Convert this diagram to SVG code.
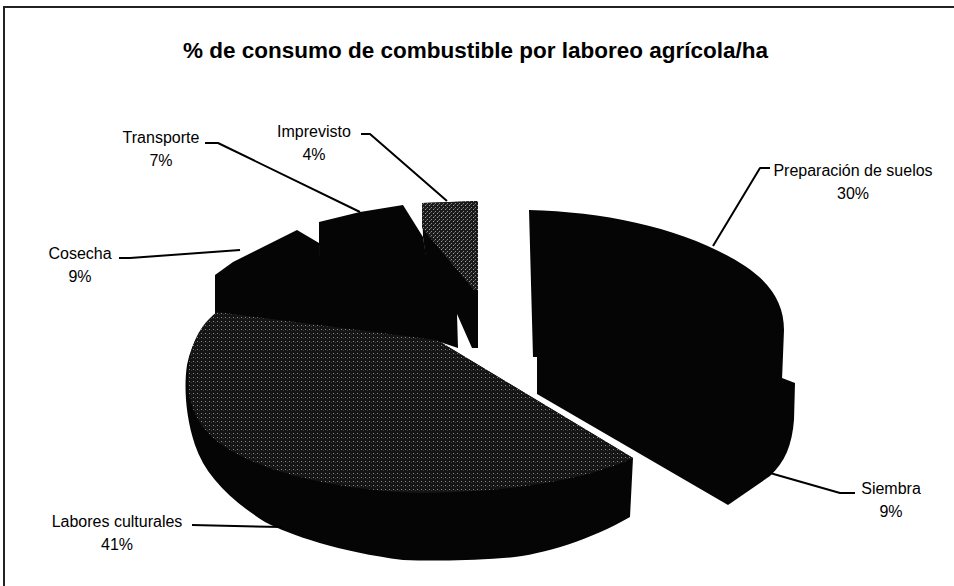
<svg xmlns="http://www.w3.org/2000/svg" width="954" height="586" viewBox="0 0 954 586">
<defs>
<pattern id="stip" width="4" height="4" patternUnits="userSpaceOnUse">
<rect width="4" height="4" fill="#141414"/>
<rect x="1" y="1" width="1" height="1" fill="#8a8a8a"/>
<rect x="3" y="2" width="1" height="1" fill="#3a3a3a"/>
</pattern>
<pattern id="stip2" width="4" height="4" patternUnits="userSpaceOnUse">
<rect width="4" height="4" fill="#1a1a1a"/>
<rect x="1" y="1" width="1" height="1" fill="#a0a0a0"/>
<rect x="3" y="3" width="1" height="1" fill="#8a8a8a"/>
<rect x="2" y="0" width="1" height="1" fill="#555"/>
</pattern>
<style>
.lbl{font-family:"Liberation Sans",Arial,sans-serif;font-size:16px;fill:#000;text-anchor:middle}
.ttl{font-family:"Liberation Sans",Arial,sans-serif;font-size:22px;font-weight:bold;fill:#000}
.side{fill:#050505}
.top{fill:url(#stip)}
.top2{fill:url(#stip2)}
.lead{fill:none;stroke:#000;stroke-width:2;stroke-linejoin:round}
.frame{fill:none;stroke:#222;stroke-width:2}
</style>
</defs>
<rect width="954" height="586" fill="#fff"/>
<path class="frame" d="M4,586 V7 H954"/>
<text class="ttl" x="183" y="58" textLength="585" lengthAdjust="spacingAndGlyphs">% de consumo de combustible por laboreo agrícola/ha</text>

<g id="cosecha">
<path class="side" d="M215,275 L233,262 L297,230 L319,243 L325,330 L215,314 Z"/>
</g>
<g id="transporte">
<path class="side" d="M319,243 L319,222 L360,212 L403,205 L423,237 L440,342 L320,330 Z"/>
</g>
<g id="imprevisto">
<path class="side" d="M422,203 L478,201 L478,348 L472,348 L457,314 L458,348 L437,341 L423,237 Z"/>
<path class="top2" d="M422,203 L478,201 L478,290 L474,290 L422,228 Z"/>
</g>
<g id="preparacion">
<path class="side" d="M529,210 C610,212 690,230 745,266 C772,284 784,305 784,330 L782,380 L540,380 L537,357 L533,357 Z"/>
</g>
<g id="siembra">
<path class="side" d="M537,357 L782,378 L795,383 L794,420 C792,445 785,462 770,476 L728,505 L537,394 Z"/>
</g>
<g id="labores">
<path class="side" d="M437,340 L633,458 L630,517 C590,540 540,556 503,558 C460,561 430,561 403,560 C340,552 290,535 265,522 C230,500 205,475 195,445 C185,415 184,385 187,365 C192,340 205,322 217,312 Z"/>
<path class="top" d="M437,340 L633,458 C590,478 520,492 420,493 C330,490 260,470 225,447 C195,428 187,400 188,375 C189,345 200,325 217,312 Z"/>
</g>

<g id="connectors">
<path class="lead" d="M361,134 H370 L447,201"/>
<path class="lead" d="M205,143 H218 L360,212"/>
<path class="lead" d="M119,258 H130 L240,250"/>
<path class="lead" d="M192,525 L282,527"/>
<path class="lead" d="M855,493 H840 L770,473"/>
<path class="lead" d="M770,168 H760 L713,246"/>
</g>

<g id="labels">
<text class="lbl" x="853" y="176">Preparación de suelos</text>
<text class="lbl" x="853" y="199">30%</text>
<text class="lbl" x="891" y="494">Siembra</text>
<text class="lbl" x="891" y="517">9%</text>
<text class="lbl" x="117" y="527">Labores culturales</text>
<text class="lbl" x="117" y="550">41%</text>
<text class="lbl" x="80" y="259">Cosecha</text>
<text class="lbl" x="80" y="282">9%</text>
<text class="lbl" x="161" y="143">Transporte</text>
<text class="lbl" x="161" y="166">7%</text>
<text class="lbl" x="314" y="137">Imprevisto</text>
<text class="lbl" x="314" y="160">4%</text>
</g>
</svg>
